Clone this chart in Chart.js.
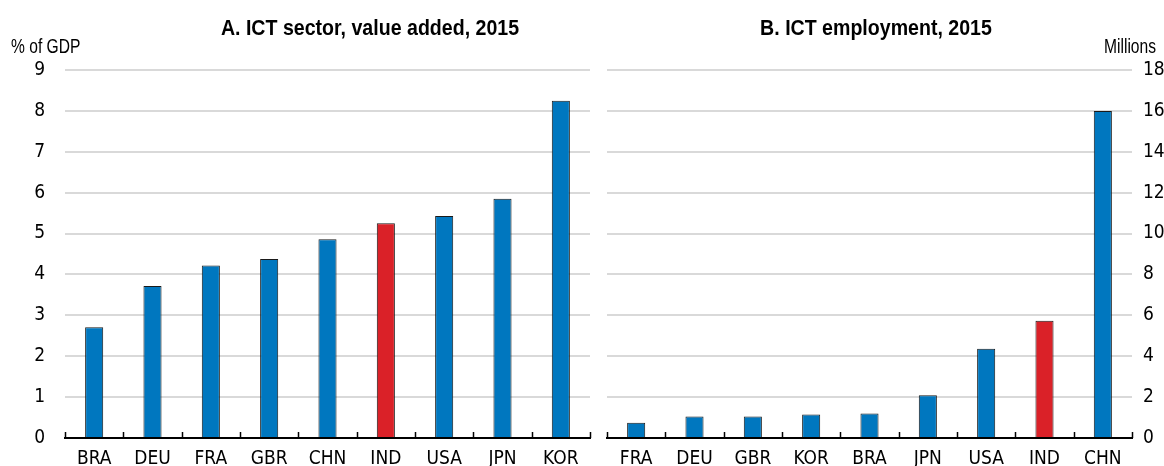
<!DOCTYPE html>
<html>
<head>
<meta charset="utf-8">
<script src="https://cdn.jsdelivr.net/npm/chart.js@4.4.0/dist/chart.umd.min.js"></script>
<style>
  body { margin: 0; background: #fff; }
  #wrap { position: relative; width: 1164px; height: 466px; overflow: hidden;
          font-family: 'Liberation Sans', Arial, sans-serif; color: #000; }
  canvas { position: absolute; top: 0; display: block; }
  .title { position: absolute; top: 15px; font-weight: bold; font-size: 22px; white-space: nowrap;
           transform: translateX(-50%) scaleX(0.89); }
  .unit { position: absolute; top: 35px; font-size: 19.5px; white-space: nowrap;
          transform-origin: 0 0; transform: scaleX(0.8); }
</style>
</head>
<body>
<div id="wrap">
  <canvas id="chartA" width="600" height="466" style="left:0"></canvas>
  <canvas id="chartB" width="564" height="466" style="left:600px"></canvas>
  <div class="title" style="left:370px">A. ICT sector, value added, 2015</div>
  <div class="title" style="left:876px">B. ICT employment, 2015</div>
  <div class="unit" style="left:11px">% of GDP</div>
  <div class="unit" style="left:1104px">Millions</div>
</div>
<script>
// panel A: ICT value added, % of GDP
var catsA = ['BRA', 'DEU', 'FRA', 'GBR', 'CHN', 'IND', 'USA', 'JPN', 'KOR'];
var valsA = [2.71, 3.72, 4.22, 4.38, 4.86, 5.25, 5.43, 5.85, 8.25];
var ticksA = [0, 1, 2, 3, 4, 5, 6, 7, 8, 9];

// panel B: ICT employment, millions
var catsB = ['FRA', 'DEU', 'GBR', 'KOR', 'BRA', 'JPN', 'USA', 'IND', 'CHN'];
var valsB = [0.74, 1.05, 1.05, 1.15, 1.2, 2.09, 4.36, 5.73, 16.0];
var ticksB = [0, 2, 4, 6, 8, 10, 12, 14, 16, 18];

var highlight = 'IND';
var BLUE = '#0077bf', RED = '#da2128';
var FONT = "'DejaVu Sans Condensed', 'Liberation Sans', sans-serif";

// small upward tick marks between categories on the x axis
var upTicks = {
  id: 'upTicks',
  afterDraw: function (chart) {
    var x = chart.scales.x, ctx = chart.ctx;
    var n = chart.data.labels.length;
    var bottom = chart.chartArea.bottom;
    ctx.save();
    ctx.strokeStyle = '#000';
    ctx.lineWidth = 1.5;
    ctx.beginPath();
    for (var i = 0; i <= n; i++) {
      var px;
      if (i === 0) px = x.left;
      else if (i === n) px = x.right;
      else px = (x.getPixelForValue(i - 1) + x.getPixelForValue(i)) / 2;
      px = Math.round(px) + 0.5;
      ctx.moveTo(px, bottom);
      ctx.lineTo(px, bottom - 6);
    }
    ctx.stroke();
    ctx.restore();
  }
};

function makeChart(id, cats, vals, ticks, side, pad, yWidth) {
  var colors = cats.map(function (c) { return c === highlight ? RED : BLUE; });
  return new Chart(document.getElementById(id), {
    type: 'bar',
    data: {
      labels: cats,
      datasets: [{
        data: vals,
        backgroundColor: colors,
        borderColor: '#1a1a1a',
        borderWidth: 1,
        borderSkipped: 'bottom',
        barPercentage: 0.31,
        categoryPercentage: 1
      }]
    },
    options: {
      responsive: false,
      animation: false,
      devicePixelRatio: 1,
      layout: { padding: pad },
      plugins: { legend: { display: false }, tooltip: { enabled: false } },
      scales: {
        x: {
          offset: true,
          grid: { display: false, drawTicks: false },
          border: { display: true, color: '#000', width: 2 },
          ticks: { color: '#000', padding: 10, font: { family: FONT, size: 19 }, maxRotation: 0, autoSkip: false },
          afterFit: function (s) { s.height = 28; }
        },
        y: {
          position: side,
          min: ticks[0],
          max: ticks[ticks.length - 1],
          afterBuildTicks: function (s) { s.ticks = ticks.map(function (v) { return { value: v }; }); },
          grid: { color: '#d9d9d9', lineWidth: 2, drawTicks: false },
          border: { display: false },
          ticks: { color: '#000', padding: side === 'left' ? 20 : 11, font: { family: FONT, size: 19 } },
          afterFit: function (s) { s.width = yWidth; s.paddingTop = 0; s.paddingBottom = 0; }
        }
      }
    },
    plugins: [upTicks]
  });
}

makeChart('chartA', catsA, valsA, ticksA, 'left', { top: 70, right: 10, bottom: 0, left: 0 }, 65);
makeChart('chartB', catsB, valsB, ticksB, 'right', { top: 70, right: 0, bottom: 0, left: 7 }, 32);
</script>
</body>
</html>
